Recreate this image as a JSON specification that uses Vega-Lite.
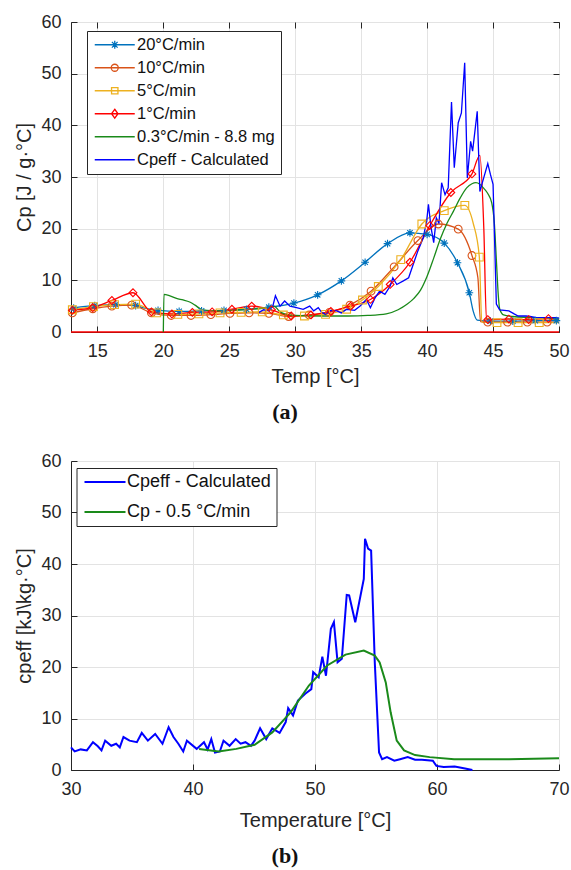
{
"$schema": "https://vega.github.io/schema/vega-lite/v6.json",
"background": "white",
"padding": {"left": 14, "top": 12, "right": 2, "bottom": 2},
"spacing": 27,
"datasets": {
"a": [
{"s":"20°C/min","g":"20°C/min","x":13.0,"y":4.4,"mk":0},{"s":"20°C/min","g":"20°C/min","x":13.2,"y":4.6,"mk":1},{"s":"20°C/min","g":"20°C/min","x":14.8,"y":5.1,"mk":1},{"s":"20°C/min","g":"20°C/min","x":16.4,"y":5.3,"mk":1},{"s":"20°C/min","g":"20°C/min","x":17.9,"y":5.1,"mk":1},{"s":"20°C/min","g":"20°C/min","x":18.6,"y":4.6,"mk":0},{"s":"20°C/min","g":"20°C/min","x":19.6,"y":4.2,"mk":1},{"s":"20°C/min","g":"20°C/min","x":21.2,"y":4.0,"mk":1},{"s":"20°C/min","g":"20°C/min","x":22.9,"y":4.1,"mk":1},{"s":"20°C/min","g":"20°C/min","x":24.6,"y":4.2,"mk":1},{"s":"20°C/min","g":"20°C/min","x":26.3,"y":4.4,"mk":1},{"s":"20°C/min","g":"20°C/min","x":28.0,"y":4.8,"mk":1},{"s":"20°C/min","g":"20°C/min","x":29.9,"y":5.6,"mk":1},{"s":"20°C/min","g":"20°C/min","x":31.7,"y":7.2,"mk":1},{"s":"20°C/min","g":"20°C/min","x":33.5,"y":9.9,"mk":1},{"s":"20°C/min","g":"20°C/min","x":35.3,"y":13.5,"mk":1},{"s":"20°C/min","g":"20°C/min","x":37.0,"y":17.1,"mk":1},{"s":"20°C/min","g":"20°C/min","x":38.7,"y":19.2,"mk":1},{"s":"20°C/min","g":"20°C/min","x":40.0,"y":18.9,"mk":1},{"s":"20°C/min","g":"20°C/min","x":41.3,"y":17.2,"mk":1},{"s":"20°C/min","g":"20°C/min","x":42.3,"y":13.4,"mk":1},{"s":"20°C/min","g":"20°C/min","x":43.2,"y":7.6,"mk":1},{"s":"20°C/min","g":"20°C/min","x":43.5,"y":4.0,"mk":0},{"s":"20°C/min","g":"20°C/min","x":43.8,"y":2.3,"mk":0},{"s":"20°C/min","g":"20°C/min","x":44.8,"y":2.1,"mk":1},{"s":"20°C/min","g":"20°C/min","x":46.5,"y":2.1,"mk":1},{"s":"20°C/min","g":"20°C/min","x":48.2,"y":2.2,"mk":1},{"s":"20°C/min","g":"20°C/min","x":49.8,"y":2.2,"mk":1},{"s":"20°C/min","g":"20°C/min","x":50.0,"y":2.2,"mk":0},

{"s":"10°C/min","g":"10°C/min","x":13.1,"y":3.7,"mk":1},{"s":"10°C/min","g":"10°C/min","x":14.65,"y":4.5,"mk":1},{"s":"10°C/min","g":"10°C/min","x":16.1,"y":5.0,"mk":1},{"s":"10°C/min","g":"10°C/min","x":17.6,"y":5.2,"mk":1},{"s":"10°C/min","g":"10°C/min","x":19.1,"y":3.7,"mk":1},{"s":"10°C/min","g":"10°C/min","x":20.6,"y":3.2,"mk":1},{"s":"10°C/min","g":"10°C/min","x":22.1,"y":3.2,"mk":1},{"s":"10°C/min","g":"10°C/min","x":23.6,"y":3.35,"mk":1},{"s":"10°C/min","g":"10°C/min","x":25.05,"y":3.6,"mk":1},{"s":"10°C/min","g":"10°C/min","x":26.5,"y":3.7,"mk":1},{"s":"10°C/min","g":"10°C/min","x":28.0,"y":3.6,"mk":1},{"s":"10°C/min","g":"10°C/min","x":29.5,"y":3.0,"mk":1},{"s":"10°C/min","g":"10°C/min","x":31.05,"y":3.3,"mk":1},{"s":"10°C/min","g":"10°C/min","x":32.6,"y":3.8,"mk":1},{"s":"10°C/min","g":"10°C/min","x":34.15,"y":5.2,"mk":1},{"s":"10°C/min","g":"10°C/min","x":35.75,"y":7.9,"mk":1},{"s":"10°C/min","g":"10°C/min","x":37.5,"y":12.6,"mk":1},{"s":"10°C/min","g":"10°C/min","x":39.3,"y":17.7,"mk":1},{"s":"10°C/min","g":"10°C/min","x":40.85,"y":20.9,"mk":1},{"s":"10°C/min","g":"10°C/min","x":42.36,"y":19.9,"mk":1},{"s":"10°C/min","g":"10°C/min","x":43.4,"y":14.8,"mk":1},{"s":"10°C/min","g":"10°C/min","x":43.85,"y":10.5,"mk":0},{"s":"10°C/min","g":"10°C/min","x":44.05,"y":2.0,"mk":0},{"s":"10°C/min","g":"10°C/min","x":44.6,"y":1.9,"mk":1},{"s":"10°C/min","g":"10°C/min","x":46.1,"y":1.9,"mk":1},{"s":"10°C/min","g":"10°C/min","x":47.6,"y":1.9,"mk":1},{"s":"10°C/min","g":"10°C/min","x":49.1,"y":1.9,"mk":1},{"s":"10°C/min","g":"10°C/min","x":50.0,"y":1.9,"mk":0},

{"s":"5°C/min","g":"5°C/min","x":13.1,"y":4.3,"mk":1},{"s":"5°C/min","g":"5°C/min","x":14.7,"y":4.9,"mk":1},{"s":"5°C/min","g":"5°C/min","x":16.3,"y":5.3,"mk":1},{"s":"5°C/min","g":"5°C/min","x":17.9,"y":5.4,"mk":1},{"s":"5°C/min","g":"5°C/min","x":19.5,"y":3.7,"mk":1},{"s":"5°C/min","g":"5°C/min","x":21.1,"y":3.4,"mk":1},{"s":"5°C/min","g":"5°C/min","x":22.7,"y":3.5,"mk":1},{"s":"5°C/min","g":"5°C/min","x":24.3,"y":3.7,"mk":1},{"s":"5°C/min","g":"5°C/min","x":25.9,"y":3.8,"mk":1},{"s":"5°C/min","g":"5°C/min","x":27.5,"y":3.9,"mk":1},{"s":"5°C/min","g":"5°C/min","x":29.1,"y":3.3,"mk":1},{"s":"5°C/min","g":"5°C/min","x":30.7,"y":3.1,"mk":1},{"s":"5°C/min","g":"5°C/min","x":32.3,"y":3.4,"mk":1},{"s":"5°C/min","g":"5°C/min","x":33.9,"y":4.4,"mk":1},{"s":"5°C/min","g":"5°C/min","x":35.1,"y":6.2,"mk":1},{"s":"5°C/min","g":"5°C/min","x":36.3,"y":8.8,"mk":1},{"s":"5°C/min","g":"5°C/min","x":38.0,"y":14.0,"mk":1},{"s":"5°C/min","g":"5°C/min","x":39.6,"y":20.9,"mk":1},{"s":"5°C/min","g":"5°C/min","x":41.3,"y":23.5,"mk":1},{"s":"5°C/min","g":"5°C/min","x":42.86,"y":24.5,"mk":1},{"s":"5°C/min","g":"5°C/min","x":43.5,"y":21.0,"mk":0},{"s":"5°C/min","g":"5°C/min","x":43.96,"y":14.5,"mk":1},{"s":"5°C/min","g":"5°C/min","x":44.15,"y":1.9,"mk":0},{"s":"5°C/min","g":"5°C/min","x":45.3,"y":1.8,"mk":1},{"s":"5°C/min","g":"5°C/min","x":46.9,"y":1.8,"mk":1},{"s":"5°C/min","g":"5°C/min","x":48.5,"y":1.8,"mk":1},{"s":"5°C/min","g":"5°C/min","x":50.0,"y":1.8,"mk":0},

{"s":"1°C/min","g":"1°C/min","x":13.1,"y":4.2,"mk":1},{"s":"1°C/min","g":"1°C/min","x":14.65,"y":4.7,"mk":1},{"s":"1°C/min","g":"1°C/min","x":16.1,"y":6.1,"mk":1},{"s":"1°C/min","g":"1°C/min","x":17.7,"y":7.6,"mk":1},{"s":"1°C/min","g":"1°C/min","x":19.1,"y":3.9,"mk":1},{"s":"1°C/min","g":"1°C/min","x":20.65,"y":3.5,"mk":1},{"s":"1°C/min","g":"1°C/min","x":22.2,"y":3.8,"mk":1},{"s":"1°C/min","g":"1°C/min","x":23.7,"y":3.9,"mk":1},{"s":"1°C/min","g":"1°C/min","x":25.2,"y":4.4,"mk":1},{"s":"1°C/min","g":"1°C/min","x":26.7,"y":5.0,"mk":1},{"s":"1°C/min","g":"1°C/min","x":28.2,"y":4.3,"mk":1},{"s":"1°C/min","g":"1°C/min","x":29.7,"y":3.1,"mk":1},{"s":"1°C/min","g":"1°C/min","x":31.2,"y":3.3,"mk":1},{"s":"1°C/min","g":"1°C/min","x":32.7,"y":4.0,"mk":1},{"s":"1°C/min","g":"1°C/min","x":34.2,"y":5.0,"mk":1},{"s":"1°C/min","g":"1°C/min","x":35.7,"y":6.3,"mk":1},{"s":"1°C/min","g":"1°C/min","x":37.2,"y":9.2,"mk":1},{"s":"1°C/min","g":"1°C/min","x":38.7,"y":13.5,"mk":1},{"s":"1°C/min","g":"1°C/min","x":40.2,"y":20.6,"mk":1},{"s":"1°C/min","g":"1°C/min","x":41.8,"y":27.0,"mk":1},{"s":"1°C/min","g":"1°C/min","x":43.4,"y":30.6,"mk":1},{"s":"1°C/min","g":"1°C/min","x":44.0,"y":34.2,"mk":0},{"s":"1°C/min","g":"1°C/min","x":44.3,"y":20.0,"mk":0},{"s":"1°C/min","g":"1°C/min","x":44.5,"y":2.4,"mk":0},{"s":"1°C/min","g":"1°C/min","x":44.6,"y":2.4,"mk":1},{"s":"1°C/min","g":"1°C/min","x":46.2,"y":2.5,"mk":1},{"s":"1°C/min","g":"1°C/min","x":47.7,"y":2.4,"mk":1},{"s":"1°C/min","g":"1°C/min","x":49.2,"y":2.6,"mk":1},{"s":"1°C/min","g":"1°C/min","x":50.0,"y":2.5,"mk":0},
{"s":"1°C/min","g":"zero","x":13.0,"y":0,"mk":0},{"s":"1°C/min","g":"zero","x":50.0,"y":0,"mk":0},

{"s":"0.3°C/min - 8.8 mg","g":"g","x":20.0,"y":0,"mk":0},{"s":"0.3°C/min - 8.8 mg","g":"g","x":20.05,"y":7.3,"mk":0},{"s":"0.3°C/min - 8.8 mg","g":"g","x":20.5,"y":7.0,"mk":0},{"s":"0.3°C/min - 8.8 mg","g":"g","x":21.0,"y":6.5,"mk":0},{"s":"0.3°C/min - 8.8 mg","g":"g","x":21.5,"y":6.2,"mk":0},{"s":"0.3°C/min - 8.8 mg","g":"g","x":22.0,"y":5.8,"mk":0},{"s":"0.3°C/min - 8.8 mg","g":"g","x":22.4,"y":5.2,"mk":0},{"s":"0.3°C/min - 8.8 mg","g":"g","x":22.8,"y":4.5,"mk":0},{"s":"0.3°C/min - 8.8 mg","g":"g","x":23.3,"y":4.2,"mk":0},{"s":"0.3°C/min - 8.8 mg","g":"g","x":24.5,"y":4.1,"mk":0},{"s":"0.3°C/min - 8.8 mg","g":"g","x":26.0,"y":4.3,"mk":0},{"s":"0.3°C/min - 8.8 mg","g":"g","x":27.5,"y":4.6,"mk":0},{"s":"0.3°C/min - 8.8 mg","g":"g","x":28.4,"y":5.0,"mk":0},{"s":"0.3°C/min - 8.8 mg","g":"g","x":28.8,"y":4.0,"mk":0},{"s":"0.3°C/min - 8.8 mg","g":"g","x":29.3,"y":3.4,"mk":0},{"s":"0.3°C/min - 8.8 mg","g":"g","x":30.0,"y":3.2,"mk":0},{"s":"0.3°C/min - 8.8 mg","g":"g","x":32.0,"y":3.1,"mk":0},{"s":"0.3°C/min - 8.8 mg","g":"g","x":34.0,"y":3.1,"mk":0},{"s":"0.3°C/min - 8.8 mg","g":"g","x":35.5,"y":3.2,"mk":0},{"s":"0.3°C/min - 8.8 mg","g":"g","x":36.9,"y":3.5,"mk":0},{"s":"0.3°C/min - 8.8 mg","g":"g","x":37.8,"y":4.3,"mk":0},{"s":"0.3°C/min - 8.8 mg","g":"g","x":38.5,"y":5.4,"mk":0},{"s":"0.3°C/min - 8.8 mg","g":"g","x":39.0,"y":6.5,"mk":0},{"s":"0.3°C/min - 8.8 mg","g":"g","x":39.5,"y":8.1,"mk":0},{"s":"0.3°C/min - 8.8 mg","g":"g","x":40.0,"y":10.8,"mk":0},{"s":"0.3°C/min - 8.8 mg","g":"g","x":40.5,"y":14.3,"mk":0},{"s":"0.3°C/min - 8.8 mg","g":"g","x":41.0,"y":18.0,"mk":0},{"s":"0.3°C/min - 8.8 mg","g":"g","x":41.5,"y":21.0,"mk":0},{"s":"0.3°C/min - 8.8 mg","g":"g","x":42.0,"y":23.4,"mk":0},{"s":"0.3°C/min - 8.8 mg","g":"g","x":42.5,"y":25.9,"mk":0},{"s":"0.3°C/min - 8.8 mg","g":"g","x":43.0,"y":27.9,"mk":0},{"s":"0.3°C/min - 8.8 mg","g":"g","x":43.4,"y":28.7,"mk":0},{"s":"0.3°C/min - 8.8 mg","g":"g","x":43.7,"y":28.9,"mk":0},{"s":"0.3°C/min - 8.8 mg","g":"g","x":44.0,"y":28.6,"mk":0},{"s":"0.3°C/min - 8.8 mg","g":"g","x":44.3,"y":27.8,"mk":0},{"s":"0.3°C/min - 8.8 mg","g":"g","x":44.6,"y":26.8,"mk":0},{"s":"0.3°C/min - 8.8 mg","g":"g","x":44.9,"y":25.0,"mk":0},{"s":"0.3°C/min - 8.8 mg","g":"g","x":45.1,"y":21.0,"mk":0},{"s":"0.3°C/min - 8.8 mg","g":"g","x":45.25,"y":14.0,"mk":0},{"s":"0.3°C/min - 8.8 mg","g":"g","x":45.4,"y":7.0,"mk":0},{"s":"0.3°C/min - 8.8 mg","g":"g","x":45.5,"y":4.5,"mk":0},{"s":"0.3°C/min - 8.8 mg","g":"g","x":45.8,"y":3.3,"mk":0},{"s":"0.3°C/min - 8.8 mg","g":"g","x":46.5,"y":3.0,"mk":0},{"s":"0.3°C/min - 8.8 mg","g":"g","x":48.0,"y":2.8,"mk":0},{"s":"0.3°C/min - 8.8 mg","g":"g","x":50.0,"y":2.5,"mk":0},

{"s":"Cpeff - Calculated","g":"c","x":27.2,"y":3.7,"mk":0},{"s":"Cpeff - Calculated","g":"c","x":27.6,"y":4.3,"mk":0},{"s":"Cpeff - Calculated","g":"c","x":28.0,"y":4.1,"mk":0},{"s":"Cpeff - Calculated","g":"c","x":28.3,"y":5.0,"mk":0},{"s":"Cpeff - Calculated","g":"c","x":28.5,"y":7.0,"mk":0},{"s":"Cpeff - Calculated","g":"c","x":28.85,"y":5.0,"mk":0},{"s":"Cpeff - Calculated","g":"c","x":29.2,"y":6.0,"mk":0},{"s":"Cpeff - Calculated","g":"c","x":29.6,"y":5.0,"mk":0},{"s":"Cpeff - Calculated","g":"c","x":30.1,"y":4.7,"mk":0},{"s":"Cpeff - Calculated","g":"c","x":30.6,"y":4.4,"mk":0},{"s":"Cpeff - Calculated","g":"c","x":31.1,"y":5.0,"mk":0},{"s":"Cpeff - Calculated","g":"c","x":31.4,"y":4.1,"mk":0},{"s":"Cpeff - Calculated","g":"c","x":31.75,"y":4.7,"mk":0},{"s":"Cpeff - Calculated","g":"c","x":32.0,"y":3.8,"mk":0},{"s":"Cpeff - Calculated","g":"c","x":32.3,"y":3.4,"mk":0},{"s":"Cpeff - Calculated","g":"c","x":32.7,"y":4.2,"mk":0},{"s":"Cpeff - Calculated","g":"c","x":33.15,"y":4.1,"mk":0},{"s":"Cpeff - Calculated","g":"c","x":33.5,"y":3.7,"mk":0},{"s":"Cpeff - Calculated","g":"c","x":33.9,"y":4.4,"mk":0},{"s":"Cpeff - Calculated","g":"c","x":34.5,"y":4.2,"mk":0},{"s":"Cpeff - Calculated","g":"c","x":34.9,"y":5.0,"mk":0},{"s":"Cpeff - Calculated","g":"c","x":35.4,"y":6.3,"mk":0},{"s":"Cpeff - Calculated","g":"c","x":35.7,"y":4.7,"mk":0},{"s":"Cpeff - Calculated","g":"c","x":36.05,"y":6.6,"mk":0},{"s":"Cpeff - Calculated","g":"c","x":36.4,"y":7.9,"mk":0},{"s":"Cpeff - Calculated","g":"c","x":36.8,"y":7.3,"mk":0},{"s":"Cpeff - Calculated","g":"c","x":37.2,"y":8.9,"mk":0},{"s":"Cpeff - Calculated","g":"c","x":37.4,"y":10.5,"mk":0},{"s":"Cpeff - Calculated","g":"c","x":37.7,"y":9.2,"mk":0},{"s":"Cpeff - Calculated","g":"c","x":38.2,"y":9.9,"mk":0},{"s":"Cpeff - Calculated","g":"c","x":38.6,"y":10.5,"mk":0},{"s":"Cpeff - Calculated","g":"c","x":38.95,"y":13.1,"mk":0},{"s":"Cpeff - Calculated","g":"c","x":39.3,"y":15.7,"mk":0},{"s":"Cpeff - Calculated","g":"c","x":39.7,"y":18.2,"mk":0},{"s":"Cpeff - Calculated","g":"c","x":39.97,"y":21.5,"mk":0},{"s":"Cpeff - Calculated","g":"c","x":40.1,"y":24.7,"mk":0},{"s":"Cpeff - Calculated","g":"c","x":40.3,"y":20.2,"mk":0},{"s":"Cpeff - Calculated","g":"c","x":40.5,"y":17.3,"mk":0},{"s":"Cpeff - Calculated","g":"c","x":40.7,"y":22.1,"mk":0},{"s":"Cpeff - Calculated","g":"c","x":40.9,"y":21.0,"mk":0},{"s":"Cpeff - Calculated","g":"c","x":41.1,"y":28.9,"mk":0},{"s":"Cpeff - Calculated","g":"c","x":41.36,"y":26.6,"mk":0},{"s":"Cpeff - Calculated","g":"c","x":41.6,"y":27.9,"mk":0},{"s":"Cpeff - Calculated","g":"c","x":41.85,"y":44.5,"mk":0},{"s":"Cpeff - Calculated","g":"c","x":42.06,"y":31.8,"mk":0},{"s":"Cpeff - Calculated","g":"c","x":42.36,"y":40.5,"mk":0},{"s":"Cpeff - Calculated","g":"c","x":42.6,"y":42.4,"mk":0},{"s":"Cpeff - Calculated","g":"c","x":42.85,"y":52.1,"mk":0},{"s":"Cpeff - Calculated","g":"c","x":43.05,"y":29.8,"mk":0},{"s":"Cpeff - Calculated","g":"c","x":43.3,"y":36.9,"mk":0},{"s":"Cpeff - Calculated","g":"c","x":43.45,"y":35.0,"mk":0},{"s":"Cpeff - Calculated","g":"c","x":43.8,"y":42.7,"mk":0},{"s":"Cpeff - Calculated","g":"c","x":44.0,"y":27.2,"mk":0},{"s":"Cpeff - Calculated","g":"c","x":44.2,"y":29.0,"mk":0},{"s":"Cpeff - Calculated","g":"c","x":44.6,"y":32.6,"mk":0},{"s":"Cpeff - Calculated","g":"c","x":44.8,"y":30.5,"mk":0},{"s":"Cpeff - Calculated","g":"c","x":45.0,"y":28.6,"mk":0},{"s":"Cpeff - Calculated","g":"c","x":45.25,"y":5.4,"mk":0},{"s":"Cpeff - Calculated","g":"c","x":45.5,"y":4.3,"mk":0},{"s":"Cpeff - Calculated","g":"c","x":46.2,"y":4.1,"mk":0},{"s":"Cpeff - Calculated","g":"c","x":46.6,"y":3.5,"mk":0},{"s":"Cpeff - Calculated","g":"c","x":46.9,"y":3.1,"mk":0},{"s":"Cpeff - Calculated","g":"c","x":47.5,"y":3.1,"mk":0},{"s":"Cpeff - Calculated","g":"c","x":47.8,"y":3.0,"mk":0},{"s":"Cpeff - Calculated","g":"c","x":48.3,"y":2.8,"mk":0},{"s":"Cpeff - Calculated","g":"c","x":49.0,"y":2.8,"mk":0},{"s":"Cpeff - Calculated","g":"c","x":49.8,"y":2.8,"mk":0},{"s":"Cpeff - Calculated","g":"c","x":50.0,"y":2.7,"mk":0}
],
"b": [
{"s":"Cpeff - Calculated","x":30.0,"y":4.4},{"s":"Cpeff - Calculated","x":30.3,"y":3.6},{"s":"Cpeff - Calculated","x":30.8,"y":4.0},{"s":"Cpeff - Calculated","x":31.3,"y":3.8},{"s":"Cpeff - Calculated","x":31.8,"y":5.4},{"s":"Cpeff - Calculated","x":32.2,"y":4.6},{"s":"Cpeff - Calculated","x":32.5,"y":3.8},{"s":"Cpeff - Calculated","x":32.8,"y":5.7},{"s":"Cpeff - Calculated","x":33.3,"y":4.7},{"s":"Cpeff - Calculated","x":33.7,"y":5.1},{"s":"Cpeff - Calculated","x":34.0,"y":4.4},{"s":"Cpeff - Calculated","x":34.3,"y":6.4},{"s":"Cpeff - Calculated","x":34.8,"y":5.7},{"s":"Cpeff - Calculated","x":35.4,"y":5.4},{"s":"Cpeff - Calculated","x":35.8,"y":7.2},{"s":"Cpeff - Calculated","x":36.3,"y":5.7},{"s":"Cpeff - Calculated","x":36.9,"y":7.0},{"s":"Cpeff - Calculated","x":37.5,"y":5.1},{"s":"Cpeff - Calculated","x":38.0,"y":8.3},{"s":"Cpeff - Calculated","x":38.4,"y":6.4},{"s":"Cpeff - Calculated","x":38.8,"y":5.1},{"s":"Cpeff - Calculated","x":39.2,"y":3.6},{"s":"Cpeff - Calculated","x":39.5,"y":5.7},{"s":"Cpeff - Calculated","x":40.3,"y":4.1},{"s":"Cpeff - Calculated","x":40.9,"y":5.4},{"s":"Cpeff - Calculated","x":41.2,"y":4.0},{"s":"Cpeff - Calculated","x":41.5,"y":6.0},{"s":"Cpeff - Calculated","x":41.8,"y":3.4},{"s":"Cpeff - Calculated","x":42.2,"y":3.6},{"s":"Cpeff - Calculated","x":42.5,"y":5.7},{"s":"Cpeff - Calculated","x":43.0,"y":4.7},{"s":"Cpeff - Calculated","x":43.5,"y":6.0},{"s":"Cpeff - Calculated","x":43.9,"y":5.1},{"s":"Cpeff - Calculated","x":44.3,"y":5.4},{"s":"Cpeff - Calculated","x":44.75,"y":4.7},{"s":"Cpeff - Calculated","x":45.05,"y":5.7},{"s":"Cpeff - Calculated","x":45.5,"y":8.1},{"s":"Cpeff - Calculated","x":46.0,"y":6.0},{"s":"Cpeff - Calculated","x":46.5,"y":8.1},{"s":"Cpeff - Calculated","x":47.1,"y":7.2},{"s":"Cpeff - Calculated","x":47.6,"y":9.3},{"s":"Cpeff - Calculated","x":47.8,"y":12.0},{"s":"Cpeff - Calculated","x":48.2,"y":10.6},{"s":"Cpeff - Calculated","x":48.6,"y":13.5},{"s":"Cpeff - Calculated","x":49.2,"y":14.8},{"s":"Cpeff - Calculated","x":49.7,"y":15.7},{"s":"Cpeff - Calculated","x":49.85,"y":19.0},{"s":"Cpeff - Calculated","x":50.3,"y":18.0},{"s":"Cpeff - Calculated","x":50.6,"y":22.0},{"s":"Cpeff - Calculated","x":50.9,"y":18.3},{"s":"Cpeff - Calculated","x":51.3,"y":27.4},{"s":"Cpeff - Calculated","x":51.55,"y":28.7},{"s":"Cpeff - Calculated","x":51.85,"y":20.9},{"s":"Cpeff - Calculated","x":52.2,"y":21.6},{"s":"Cpeff - Calculated","x":52.6,"y":34.0},{"s":"Cpeff - Calculated","x":52.8,"y":33.9},{"s":"Cpeff - Calculated","x":53.3,"y":28.7},{"s":"Cpeff - Calculated","x":54.0,"y":37.1},{"s":"Cpeff - Calculated","x":54.1,"y":44.9},{"s":"Cpeff - Calculated","x":54.35,"y":43.0},{"s":"Cpeff - Calculated","x":54.6,"y":42.6},{"s":"Cpeff - Calculated","x":54.9,"y":20.9},{"s":"Cpeff - Calculated","x":55.25,"y":3.4},{"s":"Cpeff - Calculated","x":55.5,"y":2.1},{"s":"Cpeff - Calculated","x":55.9,"y":2.5},{"s":"Cpeff - Calculated","x":56.5,"y":1.8},{"s":"Cpeff - Calculated","x":56.97,"y":2.1},{"s":"Cpeff - Calculated","x":57.6,"y":2.5},{"s":"Cpeff - Calculated","x":58.2,"y":2.0},{"s":"Cpeff - Calculated","x":58.76,"y":2.0},{"s":"Cpeff - Calculated","x":59.66,"y":1.8},{"s":"Cpeff - Calculated","x":59.95,"y":0.8},{"s":"Cpeff - Calculated","x":60.55,"y":0.6},{"s":"Cpeff - Calculated","x":61.45,"y":0.7},{"s":"Cpeff - Calculated","x":62.3,"y":0.3},{"s":"Cpeff - Calculated","x":62.9,"y":0.0},
{"s":"Cp - 0.5 °C/min","x":40.5,"y":4.1},{"s":"Cp - 0.5 °C/min","x":42.1,"y":3.6},{"s":"Cp - 0.5 °C/min","x":43.55,"y":4.1},{"s":"Cp - 0.5 °C/min","x":45.05,"y":4.9},{"s":"Cp - 0.5 °C/min","x":46.5,"y":7.3},{"s":"Cp - 0.5 °C/min","x":48.0,"y":11.2},{"s":"Cp - 0.5 °C/min","x":49.5,"y":16.4},{"s":"Cp - 0.5 °C/min","x":51.0,"y":20.3},{"s":"Cp - 0.5 °C/min","x":52.5,"y":22.4},{"s":"Cp - 0.5 °C/min","x":54.0,"y":23.2},{"s":"Cp - 0.5 °C/min","x":54.9,"y":22.2},{"s":"Cp - 0.5 °C/min","x":55.3,"y":20.9},{"s":"Cp - 0.5 °C/min","x":55.8,"y":17.0},{"s":"Cp - 0.5 °C/min","x":56.2,"y":11.2},{"s":"Cp - 0.5 °C/min","x":56.7,"y":5.7},{"s":"Cp - 0.5 °C/min","x":57.3,"y":3.8},{"s":"Cp - 0.5 °C/min","x":58.2,"y":2.9},{"s":"Cp - 0.5 °C/min","x":59.4,"y":2.5},{"s":"Cp - 0.5 °C/min","x":61.4,"y":2.1},{"s":"Cp - 0.5 °C/min","x":65.9,"y":2.1},{"s":"Cp - 0.5 °C/min","x":70.0,"y":2.3}
]
},
"resolve": {"scale": {"color": "independent", "shape": "independent", "x": "independent", "y": "independent"}, "legend": {"color": "independent"}},
"vconcat": [
{
 "width": 488, "height": 310,
 "title": {"text": "(a)", "orient": "bottom", "font": "Liberation Serif", "fontSize": 22, "fontWeight": "bold", "color": "#111111", "anchor": "middle", "dx": -30, "offset": 16},
 "data": {"name": "a"},
 "resolve": {"axis": {"x": "independent", "y": "independent"}},
 "layer": [
  {"transform": [{"filter": "datum.s != 'Cpeff - Calculated'"}],
   "mark": {"type": "line", "interpolate": "monotone", "strokeWidth": 1.3},
   "encoding": {
    "x": {"field": "x", "type": "quantitative", "scale": {"domain": [13, 50], "nice": false}, "axis": {"values": [15,20,25,30,35,40,45,50], "title": "Temp [°C]"}},
    "y": {"field": "y", "type": "quantitative", "scale": {"domain": [0, 60], "nice": false}, "axis": {"values": [0,10,20,30,40,50,60], "title": "Cp [J / g·°C]"}},
    "color": {"field": "s", "type": "nominal",
      "scale": {"domain": ["20°C/min","10°C/min","5°C/min","1°C/min","0.3°C/min - 8.8 mg","Cpeff - Calculated"], "range": ["#0072BD","#D95319","#EDB120","#FF0000","#1A8A1A","#0000FF"]},
      "legend": {"title": null, "orient": "none", "legendX": 16, "legendY": 9, "strokeColor": "#262626", "fillColor": "white", "padding": 5.5, "labelFontSize": 16.5, "labelColor": "#111111", "labelFont": "Liberation Sans", "symbolType": "stroke", "symbolSize": 100, "symbolOffset": 14, "symbolStrokeWidth": 1.3, "symbolFillColor": "transparent", "rowPadding": 6, "labelOffset": 14, "labelLimit": 300,
        "encode": {"symbols": {"update": {"shape": {"signal": "datum.value == '20°C/min' ? 'M-4,0H4M0,-0.8V0.8M-0.8,0H0.8M-0.57,-0.57L0.57,0.57M-0.57,0.57L0.57,-0.57' : datum.value == '10°C/min' ? 'M-4,0H4M-0.7,0A0.7,0.7,0,1,0,0.7,0A0.7,0.7,0,1,0,-0.7,0' : datum.value == '5°C/min' ? 'M-4,0H4M-0.64,-0.64H0.64V0.64H-0.64Z' : datum.value == '1°C/min' ? 'M-4,0H4M0,-0.9L0.65,0L0,0.9L-0.65,0Z' : 'M-4,0H4'"}}}}}},
    "detail": {"field": "g"}
   }},
  {"transform": [{"filter": "datum.s == 'Cpeff - Calculated'"}],
   "mark": {"type": "line", "strokeWidth": 1.3},
   "encoding": {
    "x": {"field": "x", "type": "quantitative", "axis": null},
    "y": {"field": "y", "type": "quantitative", "axis": null},
    "color": {"field": "s", "type": "nominal"}
   }},
  {"transform": [{"filter": "datum.mk == 1"}],
   "mark": {"type": "point", "filled": false, "size": 60, "strokeWidth": 1.1, "opacity": 1},
   "encoding": {
    "x": {"field": "x", "type": "quantitative", "axis": {"orient": "top", "values": [15,20,25,30,35,40,45,50], "labels": false, "title": null, "grid": false, "domain": false}},
    "y": {"field": "y", "type": "quantitative", "axis": {"orient": "right", "values": [0,10,20,30,40,50,60], "labels": false, "title": null, "grid": false, "domain": false}},
    "color": {"field": "s", "type": "nominal"},
    "shape": {"field": "s", "type": "nominal", "legend": null, "scale": {"domain": ["20°C/min","10°C/min","5°C/min","1°C/min"], "range": ["M0,-1V1M-1,0H1M-0.7,-0.7L0.7,0.7M-0.7,0.7L0.7,-0.7","circle","square","diamond"]}}
   }}
 ]
},
{
 "width": 488, "height": 309,
 "view": {"stroke": "#d4d4d4"},
 "title": {"text": "(b)", "orient": "bottom", "font": "Liberation Serif", "fontSize": 22, "fontWeight": "bold", "color": "#111111", "anchor": "middle", "dx": -30, "offset": 16},
 "data": {"name": "b"},
 "mark": {"type": "line", "interpolate": "linear", "strokeWidth": 2},
 "encoding": {
  "x": {"field": "x", "type": "quantitative", "scale": {"domain": [30, 70], "nice": false}, "axis": {"values": [30,40,50,60,70], "title": "Temperature [°C]", "titlePadding": 12}},
  "y": {"field": "y", "type": "quantitative", "scale": {"domain": [0, 60], "nice": false}, "axis": {"values": [0,10,20,30,40,50,60], "title": "cpeff  [kJ\\kg·°C]"}},
  "color": {"field": "s", "type": "nominal",
    "scale": {"domain": ["Cpeff - Calculated","Cp - 0.5 °C/min"], "range": ["#0000FF","#1A8A1A"]},
    "legend": {"title": null, "orient": "none", "legendX": 5.5, "legendY": 7, "strokeColor": "#262626", "fillColor": "white", "padding": 5, "labelFontSize": 18, "labelColor": "#111111", "labelFont": "Liberation Sans", "symbolType": "stroke", "symbolSize": 100, "symbolOffset": 14.5, "symbolStrokeWidth": 2, "rowPadding": 12, "labelOffset": 13, "labelLimit": 300,
      "encode": {"symbols": {"update": {"shape": {"value": "M-4.1,0H4.1"}}}}}}
 }
}
],
"config": {
 "font": "Liberation Sans",
 "view": {"stroke": "#262626"},
 "title": {"color": "#111111"},
 "axis": {"labelFont": "Liberation Sans", "labelFontSize": 18, "labelColor": "#262626", "titleFont": "Liberation Sans", "titleFontSize": 20, "titleFontWeight": "normal", "titleColor": "#262626", "domainColor": "#262626", "tickColor": "#262626", "gridColor": "#e3e3e3", "tickSize": -6, "labelPadding": 16, "titlePadding": 6, "labelOverlap": false, "labelFlush": false}
}
}
